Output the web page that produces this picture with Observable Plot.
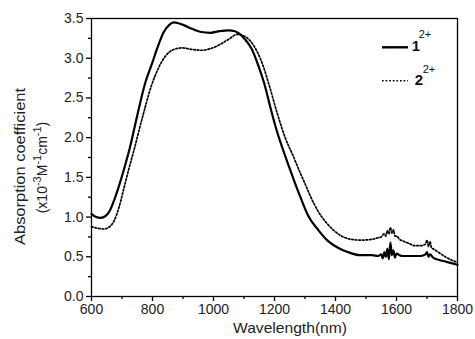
<!DOCTYPE html>
<html><head><meta charset="utf-8">
<script src="https://cdn.jsdelivr.net/npm/d3@7"></script>
<script src="https://cdn.jsdelivr.net/npm/@observablehq/plot@0.6"></script>
<style>body{margin:0;background:#fff;font-family:"Liberation Sans",Arial,sans-serif}</style>
</head><body><div id="chart"></div>
<script>
const wl1 = [600,615,630,645,660,675,694,710,725,750,777,800,815,837,855,870,885,900,930,960,990,1020,1050,1070,1088,1105,1125,1145,1165,1192,1208,1225,1247,1265,1285,1310,1345,1375,1405,1440,1482,1520,1540,1550,1555,1560,1565,1570,1575,1580,1585,1590,1595,1600,1610,1620,1640,1660,1680,1695,1700,1705,1710,1720,1740,1760,1780,1800];
const abs1 = [1.04,1.00,0.99,1.01,1.08,1.22,1.44,1.65,1.86,2.28,2.70,2.95,3.12,3.33,3.42,3.45,3.44,3.42,3.37,3.33,3.32,3.34,3.35,3.34,3.30,3.23,3.12,2.93,2.70,2.30,2.08,1.88,1.64,1.45,1.25,1.02,0.83,0.70,0.62,0.56,0.52,0.52,0.51,0.53,0.48,0.56,0.50,0.60,0.47,0.68,0.52,0.58,0.49,0.54,0.52,0.51,0.51,0.51,0.51,0.53,0.56,0.50,0.53,0.49,0.46,0.44,0.42,0.40];
const wl2 = [600,620,640,660,675,690,706,722,739,766,797,820,843,870,897,930,960,990,1020,1050,1078,1100,1115,1130,1146,1163,1181,1211,1235,1260,1285,1300,1318,1345,1372,1395,1416,1450,1482,1520,1540,1550,1560,1565,1570,1575,1580,1585,1590,1595,1600,1610,1620,1640,1660,1680,1695,1700,1705,1710,1715,1720,1740,1760,1780,1800];
const abs2 = [0.88,0.86,0.85,0.88,0.96,1.12,1.36,1.60,1.84,2.24,2.66,2.88,3.03,3.11,3.13,3.11,3.10,3.12,3.17,3.24,3.30,3.28,3.24,3.17,3.06,2.90,2.68,2.28,2.00,1.78,1.55,1.42,1.26,1.06,0.92,0.83,0.77,0.72,0.71,0.72,0.74,0.75,0.79,0.76,0.83,0.79,0.87,0.80,0.84,0.76,0.76,0.72,0.70,0.67,0.64,0.64,0.66,0.71,0.63,0.69,0.61,0.60,0.55,0.50,0.46,0.43];
const xMajor = [600,800,1000,1200,1400,1600,1800];
const xMinor = [700,900,1100,1300,1500,1700];
const yMajor = [0,0.5,1.0,1.5,2.0,2.5,3.0,3.5];
const yMinor = [0.25,0.75,1.25,1.75,2.25,2.75,3.25];

const d1 = wl1.map((w,i)=>({w, a:abs1[i]}));
const d2 = wl2.map((w,i)=>({w, a:abs2[i]}));

const chart = Plot.plot({
  width: 475, height: 339,
  marginLeft: 91, marginRight: 18, marginTop: 18, marginBottom: 43,
  style: {fontFamily: '"Liberation Sans",Arial,sans-serif', fontSize: "14px", color: "#222", background: "#fff"},
  x: {domain: [600,1800]},
  y: {domain: [0,3.5]},
  marks: [
    Plot.frame({stroke: "#000", strokeWidth: 1.3}),
    Plot.axisX({ticks: xMajor, tickSize: 5, tickPadding: 3, tickFormat: d=>String(d), label: null, stroke:"#000", strokeWidth:1.3}),
    Plot.axisX({ticks: xMinor, tickSize: 3, tickFormat: null, text: null, label: null, stroke:"#000", strokeWidth:1.3}),
    Plot.axisY({ticks: yMajor, tickSize: 5, tickPadding: 3, tickFormat: d3.format(".1f"), label: null, stroke:"#000", strokeWidth:1.3}),
    Plot.axisY({ticks: yMinor, tickSize: 3, tickFormat: null, text: null, label: null, stroke:"#000", strokeWidth:1.3}),
    Plot.line(d2, {x: "w", y: "a", stroke: "#000", strokeWidth: 1.7, strokeDasharray: "1.7,1.9", curve: "monotone-x"}),
    Plot.line(d1, {x: "w", y: "a", stroke: "#000", strokeWidth: 2.2, curve: "monotone-x"})
  ]
});
document.getElementById("chart").appendChild(chart);

const svg = d3.select(chart);
const font = '"Liberation Sans",Arial,sans-serif';
// x label
svg.append("text").attr("x", 290).attr("y", 333).attr("text-anchor","middle")
  .attr("font-family", font).attr("font-size", 15).attr("fill","#222")
  .attr("textLength", 114).attr("lengthAdjust","spacingAndGlyphs").text("Wavelength(nm)");
// y label line 1
svg.append("text").attr("transform","translate(25,166.5) rotate(-90)").attr("text-anchor","middle")
  .attr("font-family", font).attr("font-size", 14).attr("fill","#222")
  .attr("textLength", 157).attr("lengthAdjust","spacingAndGlyphs").text("Absorption coefficient");
// y label line 2 with superscripts
const t2 = svg.append("text").attr("transform","translate(47,167.5) rotate(-90)").attr("text-anchor","middle")
  .attr("font-family", font).attr("font-size", 14).attr("fill","#222");
t2.append("tspan").text("(x10");
t2.append("tspan").attr("dy",-6).attr("font-size",11).text("-3");
t2.append("tspan").attr("dy",6).text("M");
t2.append("tspan").attr("dy",-6).attr("font-size",11).text("-1");
t2.append("tspan").attr("dy",6).text("cm");
t2.append("tspan").attr("dy",-6).attr("font-size",11).text("-1");
t2.append("tspan").attr("dy",6).text(")");
// legend
const leg = [{label:"1", dash:null, w:2.4, y:47.3, base:50.7, x:416, sx:425},{label:"2", dash:"1.7,1.9", w:1.5, y:80.7, base:85, x:419, sx:429}];
leg.forEach(l=>{
  const ln = svg.append("line").attr("x1",382).attr("x2",408).attr("y1",l.y).attr("y2",l.y)
    .attr("stroke","#000").attr("stroke-width",l.w);
  if (l.dash) ln.attr("stroke-dasharray", l.dash);
  svg.append("text").attr("x", l.x).attr("y",l.base).attr("font-family",font)
    .attr("font-size",15).attr("font-weight","bold").attr("fill","#111").text(l.label);
  svg.append("text").attr("x",l.sx).attr("y",l.base-12.5).attr("font-family",font)
    .attr("font-size",11).attr("fill","#111").text("2+");
});
</script></body></html>
